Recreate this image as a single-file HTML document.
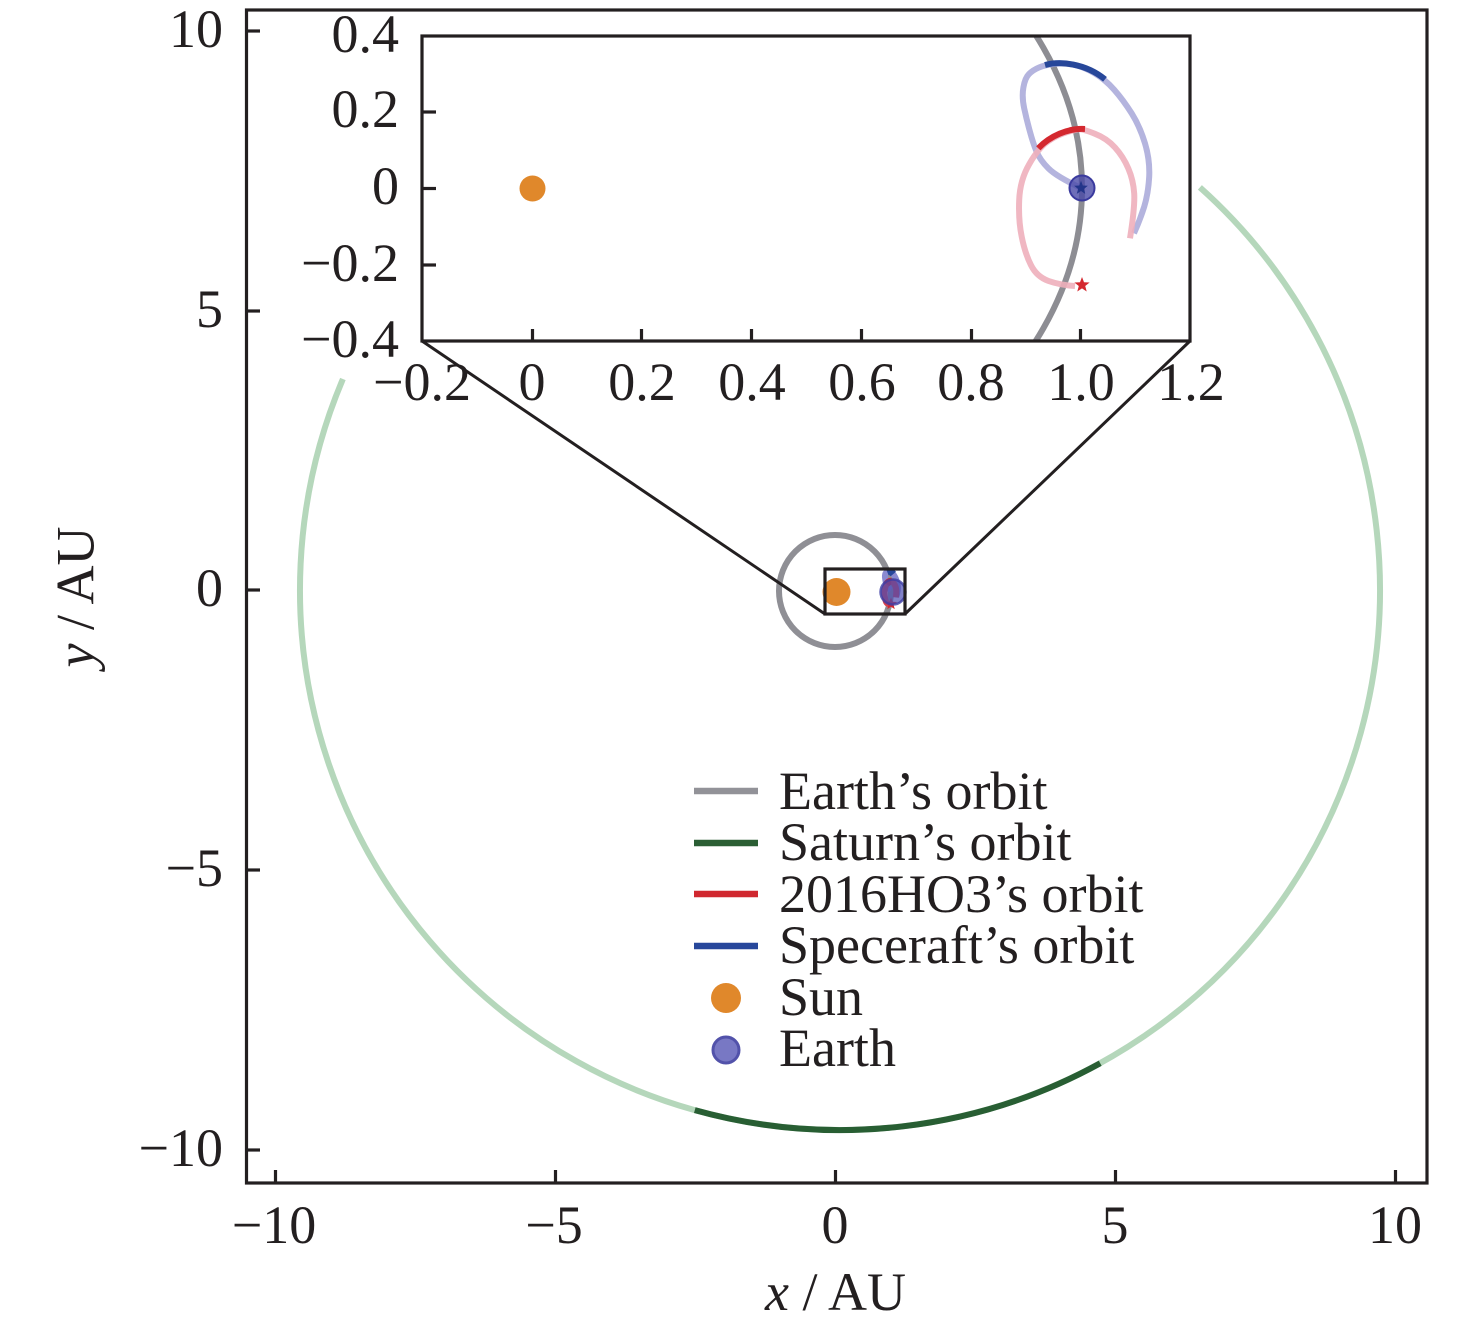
<!DOCTYPE html>
<html>
<head>
<meta charset="utf-8">
<style>
html,body{margin:0;padding:0;background:#fff;}
svg{display:block;}
text{font-family:"Liberation Serif","Times New Roman",serif;fill:#231f20;}
</style>
</head>
<body>
<svg width="1476" height="1327" viewBox="0 0 1476 1327" xmlns="http://www.w3.org/2000/svg">
<defs>
  <clipPath id="mainclip"><rect x="248" y="11.5" width="1177.5" height="1170"/></clipPath>
  <clipPath id="insetclip"><rect x="422" y="36" width="768" height="305"/></clipPath>
  <path id="star" d="M0,-8 L2,-2.75 L7.61,-2.47 L3.23,1.05 L4.7,6.47 L0,3.4 L-4.7,6.47 L-3.23,1.05 L-7.61,-2.47 L-2,-2.75 Z"/>
  <g id="curves">
    <path d="M1081,188 Q1056.7,176.7 1048.4,168.4 Q1040,160 1036.5,151.5 Q1033,143 1029.9,131.5 Q1026.7,120 1024.2,108.4 Q1021.7,96.7 1023.4,87.4 Q1025,78 1029,74 Q1033,70 1039,67.5 Q1045,65 1054.2,63.9 Q1063.3,62.7 1073.3,64.7 Q1083.3,66.7 1094.2,73 Q1105,79.3 1114.2,89.7 Q1123.3,100 1131.7,113.4 Q1140,126.7 1145,143.4 Q1150,160 1149.2,176.7 Q1148.3,193.3 1144.2,206.7 Q1140,220 1134,233.3" fill="none" stroke="#b4b4de" stroke-width="6" vector-effect="non-scaling-stroke" stroke-linecap="butt"/>
    <path d="M1075,286 Q1060,285 1048.4,280.9 Q1036.7,276.7 1030.9,265 Q1025,253.3 1021.7,236.7 Q1018.3,220 1019.2,200 Q1020,180 1029.2,164.2 Q1038.3,148.3 1047.5,141.7 Q1056.7,135 1066.7,132.2 Q1076.7,129.3 1080,129.3 Q1083.3,129.3 1095,133.8 Q1106.7,138.3 1115,147.5 Q1123.3,156.7 1128.3,168.4 Q1133.3,180 1134.2,193.4 Q1135,206.7 1130,238.3" fill="none" stroke="#efb0bc" stroke-width="6" vector-effect="non-scaling-stroke" opacity="0.9"/>
    <path d="M1045,65 C1060,61 1085,63 1105,79.3" fill="none" stroke="#27479a" stroke-width="6" vector-effect="non-scaling-stroke"/>
    <path d="M1038.3,148.3 C1050,136 1068,128 1085,129" fill="none" stroke="#d4282f" stroke-width="6" vector-effect="non-scaling-stroke"/>
  </g>
  <g id="curvesmini">
    <path d="M1081,188 Q1056.7,176.7 1048.4,168.4 Q1040,160 1036.5,151.5 Q1033,143 1029.9,131.5 Q1026.7,120 1024.2,108.4 Q1021.7,96.7 1023.4,87.4 Q1025,78 1029,74 Q1033,70 1039,67.5 Q1045,65 1054.2,63.9 Q1063.3,62.7 1073.3,64.7 Q1083.3,66.7 1094.2,73 Q1105,79.3 1114.2,89.7 Q1123.3,100 1131.7,113.4 Q1140,126.7 1145,143.4 Q1150,160 1149.2,176.7 Q1148.3,193.3 1144.2,206.7 Q1140,220 1134,233.3" fill="none" stroke="#8a8ad0" stroke-width="6" vector-effect="non-scaling-stroke"/>
    <path d="M1075,286 Q1060,285 1048.4,280.9 Q1036.7,276.7 1030.9,265 Q1025,253.3 1021.7,236.7 Q1018.3,220 1019.2,200 Q1020,180 1029.2,164.2 Q1038.3,148.3 1047.5,141.7 Q1056.7,135 1066.7,132.2 Q1076.7,129.3 1080,129.3 Q1083.3,129.3 1095,133.8 Q1106.7,138.3 1115,147.5 Q1123.3,156.7 1128.3,168.4 Q1133.3,180 1134.2,193.4 Q1135,206.7 1130,238.3" fill="none" stroke="#d8404a" stroke-width="6" vector-effect="non-scaling-stroke"/>
    <path d="M1045,65 C1060,61 1085,63 1105,79.3" fill="none" stroke="#27479a" stroke-width="7" vector-effect="non-scaling-stroke"/>
    <path d="M1038.3,148.3 C1050,136 1068,128 1085,129" fill="none" stroke="#d4282f" stroke-width="7" vector-effect="non-scaling-stroke"/>
  </g>
</defs>

<!-- ===== Main axes ===== -->
<g clip-path="url(#mainclip)">
  <circle cx="835" cy="591" r="56" fill="none" stroke="#8f8f95" stroke-width="6"/>
  <path d="M342.9,379 A540,540 0 1,0 1199.9,187.4" fill="none" stroke="#b5d7bb" stroke-width="6"/>
  <path d="M694.8,1110.1 A540,540 0 0,0 1100.2,1063.2" fill="none" stroke="#285e33" stroke-width="6"/>
  <g transform="translate(835,590) scale(0.1018,0.147) translate(-532,-188)">
    <use href="#curvesmini"/>
  </g>
  <g transform="translate(891,604)"><use href="#star" fill="#d4282f" transform="scale(0.8)"/></g>
  <circle cx="836.5" cy="592" r="14" fill="#e0882b"/>
  <circle cx="893" cy="592" r="12.5" fill="#4c4cb0" fill-opacity="0.7" stroke="#3c3ca4" stroke-opacity="0.8" stroke-width="2.5"/>
</g>

<rect x="246.5" y="10" width="1180.5" height="1173" fill="none" stroke="#231f20" stroke-width="3.2"/>
<g stroke="#231f20" stroke-width="3.2">
  <line x1="275.5" y1="1183" x2="275.5" y2="1170"/>
  <line x1="555.5" y1="1183" x2="555.5" y2="1170"/>
  <line x1="835.5" y1="1183" x2="835.5" y2="1170"/>
  <line x1="1115.5" y1="1183" x2="1115.5" y2="1170"/>
  <line x1="1395.5" y1="1183" x2="1395.5" y2="1170"/>
  <line x1="246" y1="31" x2="260" y2="31"/>
  <line x1="246" y1="311" x2="260" y2="311"/>
  <line x1="246" y1="590" x2="260" y2="590"/>
  <line x1="246" y1="870" x2="260" y2="870"/>
  <line x1="246" y1="1150" x2="260" y2="1150"/>
</g>
<g font-size="54">
  <text x="223" y="47" text-anchor="end">10</text>
  <text x="223" y="327" text-anchor="end">5</text>
  <text x="223" y="606" text-anchor="end">0</text>
  <text x="223" y="886" text-anchor="end">−5</text>
  <text x="223" y="1166" text-anchor="end">−10</text>
  <text x="274" y="1243" text-anchor="middle">−10</text>
  <text x="554" y="1243" text-anchor="middle">−5</text>
  <text x="835" y="1243" text-anchor="middle">0</text>
  <text x="1115" y="1243" text-anchor="middle">5</text>
  <text x="1395" y="1243" text-anchor="middle">10</text>
</g>
<text x="835.5" y="1310" font-size="54" text-anchor="middle"><tspan font-style="italic">x</tspan> / AU</text>
<text transform="translate(93.5,597) rotate(-90)" font-size="54" text-anchor="middle"><tspan font-style="italic">y</tspan> / AU</text>

<rect x="825" y="569" width="80" height="45" fill="none" stroke="#231f20" stroke-width="3.2"/>
<line x1="422" y1="341" x2="825" y2="614" stroke="#231f20" stroke-width="3"/>
<line x1="1190" y1="341" x2="905" y2="614" stroke="#231f20" stroke-width="3"/>

<g stroke-width="6.5">
  <line x1="694" y1="791" x2="758" y2="791" stroke="#929298"/>
  <line x1="694" y1="843" x2="758" y2="843" stroke="#2b5e34"/>
  <line x1="694" y1="894" x2="758" y2="894" stroke="#d0282f"/>
  <line x1="694" y1="946" x2="758" y2="946" stroke="#27479b"/>
</g>
<circle cx="726" cy="998" r="15" fill="#e0882b"/>
<circle cx="726" cy="1050" r="13" fill="#7878c4" stroke="#5252aa" stroke-width="3"/>
<g font-size="54">
  <text x="779" y="809">Earth’s orbit</text>
  <text x="779" y="860">Saturn’s orbit</text>
  <text x="779" y="912">2016HO3’s orbit</text>
  <text x="779" y="963">Speceraft’s orbit</text>
  <text x="779" y="1015">Sun</text>
  <text x="779" y="1066">Earth</text>
</g>

<!-- ===== Inset ===== -->
<rect x="422" y="36" width="768" height="305" fill="#fff"/>
<g clip-path="url(#insetclip)">
  <ellipse cx="532" cy="188" rx="550" ry="381" fill="none" stroke="#8d8d93" stroke-width="6"/>
  <use href="#curves"/>
  <use href="#star" transform="translate(1082,285)" fill="#d4282f"/>
  <circle cx="532.5" cy="188.5" r="13" fill="#e0882b"/>
  <circle cx="1082" cy="188" r="12.5" fill="#4a4aa8" fill-opacity="0.8" stroke="#3a3a9e" stroke-width="2"/>
  <use href="#star" transform="translate(1081,188) scale(0.9)" fill="#23358a"/>
</g>
<rect x="422" y="36" width="768" height="305" fill="none" stroke="#231f20" stroke-width="3.2"/>
<g stroke="#231f20" stroke-width="3.2">
  <line x1="532.5" y1="341" x2="532.5" y2="329"/>
  <line x1="641.5" y1="341" x2="641.5" y2="329"/>
  <line x1="751.5" y1="341" x2="751.5" y2="329"/>
  <line x1="861.5" y1="341" x2="861.5" y2="329"/>
  <line x1="971.5" y1="341" x2="971.5" y2="329"/>
  <line x1="1080.5" y1="341" x2="1080.5" y2="329"/>
  <line x1="422" y1="112" x2="436" y2="112"/>
  <line x1="422" y1="188.5" x2="436" y2="188.5"/>
  <line x1="422" y1="265" x2="436" y2="265"/>
</g>
<g font-size="54">
  <text x="399" y="52" text-anchor="end">0.4</text>
  <text x="399" y="127" text-anchor="end">0.2</text>
  <text x="399" y="204" text-anchor="end">0</text>
  <text x="399" y="281" text-anchor="end">−0.2</text>
  <text x="399" y="357" text-anchor="end">−0.4</text>
  <text x="422" y="400" text-anchor="middle">−0.2</text>
  <text x="532" y="400" text-anchor="middle">0</text>
  <text x="642" y="400" text-anchor="middle">0.2</text>
  <text x="752" y="400" text-anchor="middle">0.4</text>
  <text x="862" y="400" text-anchor="middle">0.6</text>
  <text x="971" y="400" text-anchor="middle">0.8</text>
  <text x="1081" y="400" text-anchor="middle">1.0</text>
  <text x="1191" y="400" text-anchor="middle">1.2</text>
</g>
</svg>
</body>
</html>
